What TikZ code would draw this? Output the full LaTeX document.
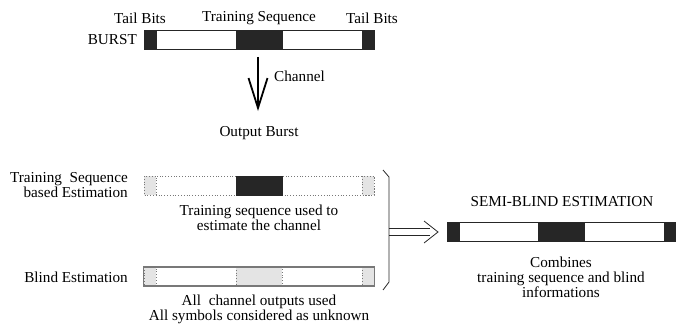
\documentclass[tikz,border=0pt]{standalone}
\usepackage{fontspec}
\setmainfont{Liberation Serif}
\usetikzlibrary{arrows.meta}
\definecolor{blk}{RGB}{38,38,38}
\definecolor{lgray}{RGB}{228,228,228}
\definecolor{mgray}{RGB}{120,120,120}
\begin{document}
\begin{tikzpicture}[x=1pt,y=-1pt,
  lbl/.style={font=\fontsize{15.2}{15.2}\selectfont, inner sep=0pt, align=center},
  solidbar/.style={draw=blk, line width=0.9pt, fill=white},
  blkseg/.style={fill=blk, draw=blk, line width=0.9pt},
  dotbar/.style={draw=mgray, line width=0.8pt, dotted, fill=white},
  grayseg/.style={fill=lgray, draw=mgray, line width=0.8pt, dotted},
  blindbar/.style={draw=mgray, line width=1.1pt, fill=white}]
\useasboundingbox (0,0) rectangle (676,326);
% ---- BURST ----
\node[lbl] (tb1) at (140,18) {Tail Bits};
\node[lbl] (ts) at (259,18) {Training Sequence};
\node[lbl] (tb2) at (372,18) {Tail Bits};
\node[lbl, anchor=east] (burstlbl) at (137,40) {BURST};
\draw[solidbar] (144,30) rectangle (374,49);
\draw[blkseg] (144,30) rectangle (156,49);
\draw[blkseg] (236,30) rectangle (282,49);
\draw[blkseg] (362,30) rectangle (374,49);
\coordinate (burstbot) at (258,57);
% ---- channel arrow ----
\node[lbl, anchor=west] (chan) at (274,76) {Channel};
\coordinate (arrend) at (258,111);
\draw[line width=2.6pt, -{Straight Barb[length=30pt,width=19pt,line width=1.8pt]}] (burstbot) -- (arrend);
\node[lbl] (outb) at (259,133) {Output Burst};
% ---- Training sequence based ----
\node[lbl, anchor=east, align=right] (tslbl) at (128,185) {Training\ \ Sequence\\based Estimation};
\draw[dotbar] (144,176) rectangle (374,195);
\draw[grayseg] (144,176) rectangle (156,195);
\draw[blkseg, solid] (236,176) rectangle (282,195);
\draw[grayseg] (362,176) rectangle (374,195);
\node[lbl] (tsdesc) at (259,218) {Training sequence used to\\estimate the channel};
% ---- Blind ----
\node[lbl, anchor=east] (bllbl) at (128,277) {Blind Estimation};
\draw[blindbar] (144,267) rectangle (374,286);
\draw[grayseg] (144,267) rectangle (156,286);
\draw[grayseg] (236,267) rectangle (282,286);
\draw[grayseg] (362,267) rectangle (374,286);
\draw[mgray, line width=1.1pt] (144,267) -- (374,267) (144,286) -- (374,286);
\node[lbl] (bldesc) at (259,309) {All\ \ channel outputs used\\All symbols considered as unknown};
% ---- bracket ----
\coordinate (brtop) at (383,170);
\coordinate (brbot) at (383,290);
\coordinate (brmid) at (389,232);
\draw[blk, line width=0.8pt] (brtop) -- (389,177) -- (389,282) -- (brbot);
% ---- Semi-blind ----
\node[lbl] (sblbl) at (562,202) {SEMI-BLIND ESTIMATION};
\draw[solidbar] (447,222) rectangle (675.5,241);
\draw[blkseg] (447,222) rectangle (459,241);
\draw[blkseg] (538,222) rectangle (584,241);
\draw[blkseg] (664,222) rectangle (675.5,241);
\coordinate (sbleft) at (438,232);
\draw[blk, line width=0.8pt] (brmid) ++(0,-3.5) -- (430,228.5) (brmid) ++(0,3.5) -- (430,235.5);
\draw[blk, line width=0.8pt] (424,221) -- (sbleft) -- (424,243);
\node[lbl] (sbdesc) at (561,277) {Combines\\training sequence and blind\\informations};
\end{tikzpicture}
\end{document}
